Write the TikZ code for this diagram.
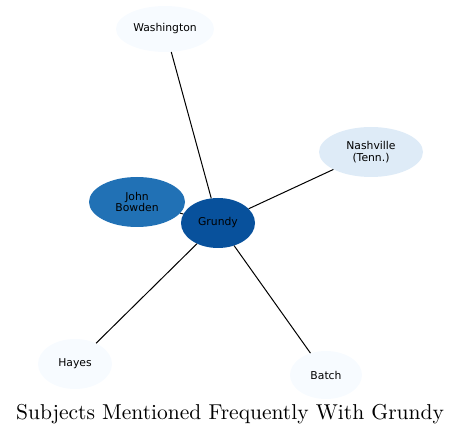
\documentclass[tikz,border=0pt]{standalone}
\usepackage{fontspec}
\newfontfamily\nodefont{DejaVu Sans}
\newfontfamily\titlefont{lmroman10-regular.otf}
\usetikzlibrary{shapes.geometric}
\definecolor{b1}{HTML}{F7FBFF}
\definecolor{b2}{HTML}{DEEBF7}
\definecolor{b5}{HTML}{2171B5}
\definecolor{b7}{HTML}{08519C}
\tikzset{
  ent/.style={ellipse, inner sep=0pt, draw=none, align=center,
    font=\nodefont\fontsize{10.8}{11.5}\selectfont, text=black},
  link/.style={draw=black, line width=1pt}
}
\begin{document}
\begin{tikzpicture}[x=1pt,y=-1pt]
\useasboundingbox (0,0) rectangle (461,435);
\node[ent, fill=b1, minimum width=98pt, minimum height=46pt] (wash) at (165,29) {Washington};
\node[ent, fill=b2, minimum width=104pt, minimum height=50pt] (nash) at (371,152) {Nashville\\(Tenn.)};
\node[ent, fill=b5, minimum width=96pt, minimum height=50pt] (john) at (137,202) {John\\Bowden};
\node[ent, fill=b7, minimum width=74pt, minimum height=50pt] (grundy) at (218,223) {Grundy};
\node[ent, fill=b1, minimum width=74pt, minimum height=50pt] (hayes) at (75,364) {Hayes};
\node[ent, fill=b1, minimum width=72pt, minimum height=48pt] (batch) at (326,375) {Batch};
\draw[link] (grundy) -- (wash);
\draw[link] (grundy) -- (nash);
\draw[link] (grundy) -- (john);
\draw[link] (grundy) -- (hayes);
\draw[link] (grundy) -- (batch);
\node[font=\titlefont\fontsize{21.5}{25}\selectfont] (title) at (230,414) {Subjects Mentioned Frequently With Grundy};
\end{tikzpicture}
\end{document}
